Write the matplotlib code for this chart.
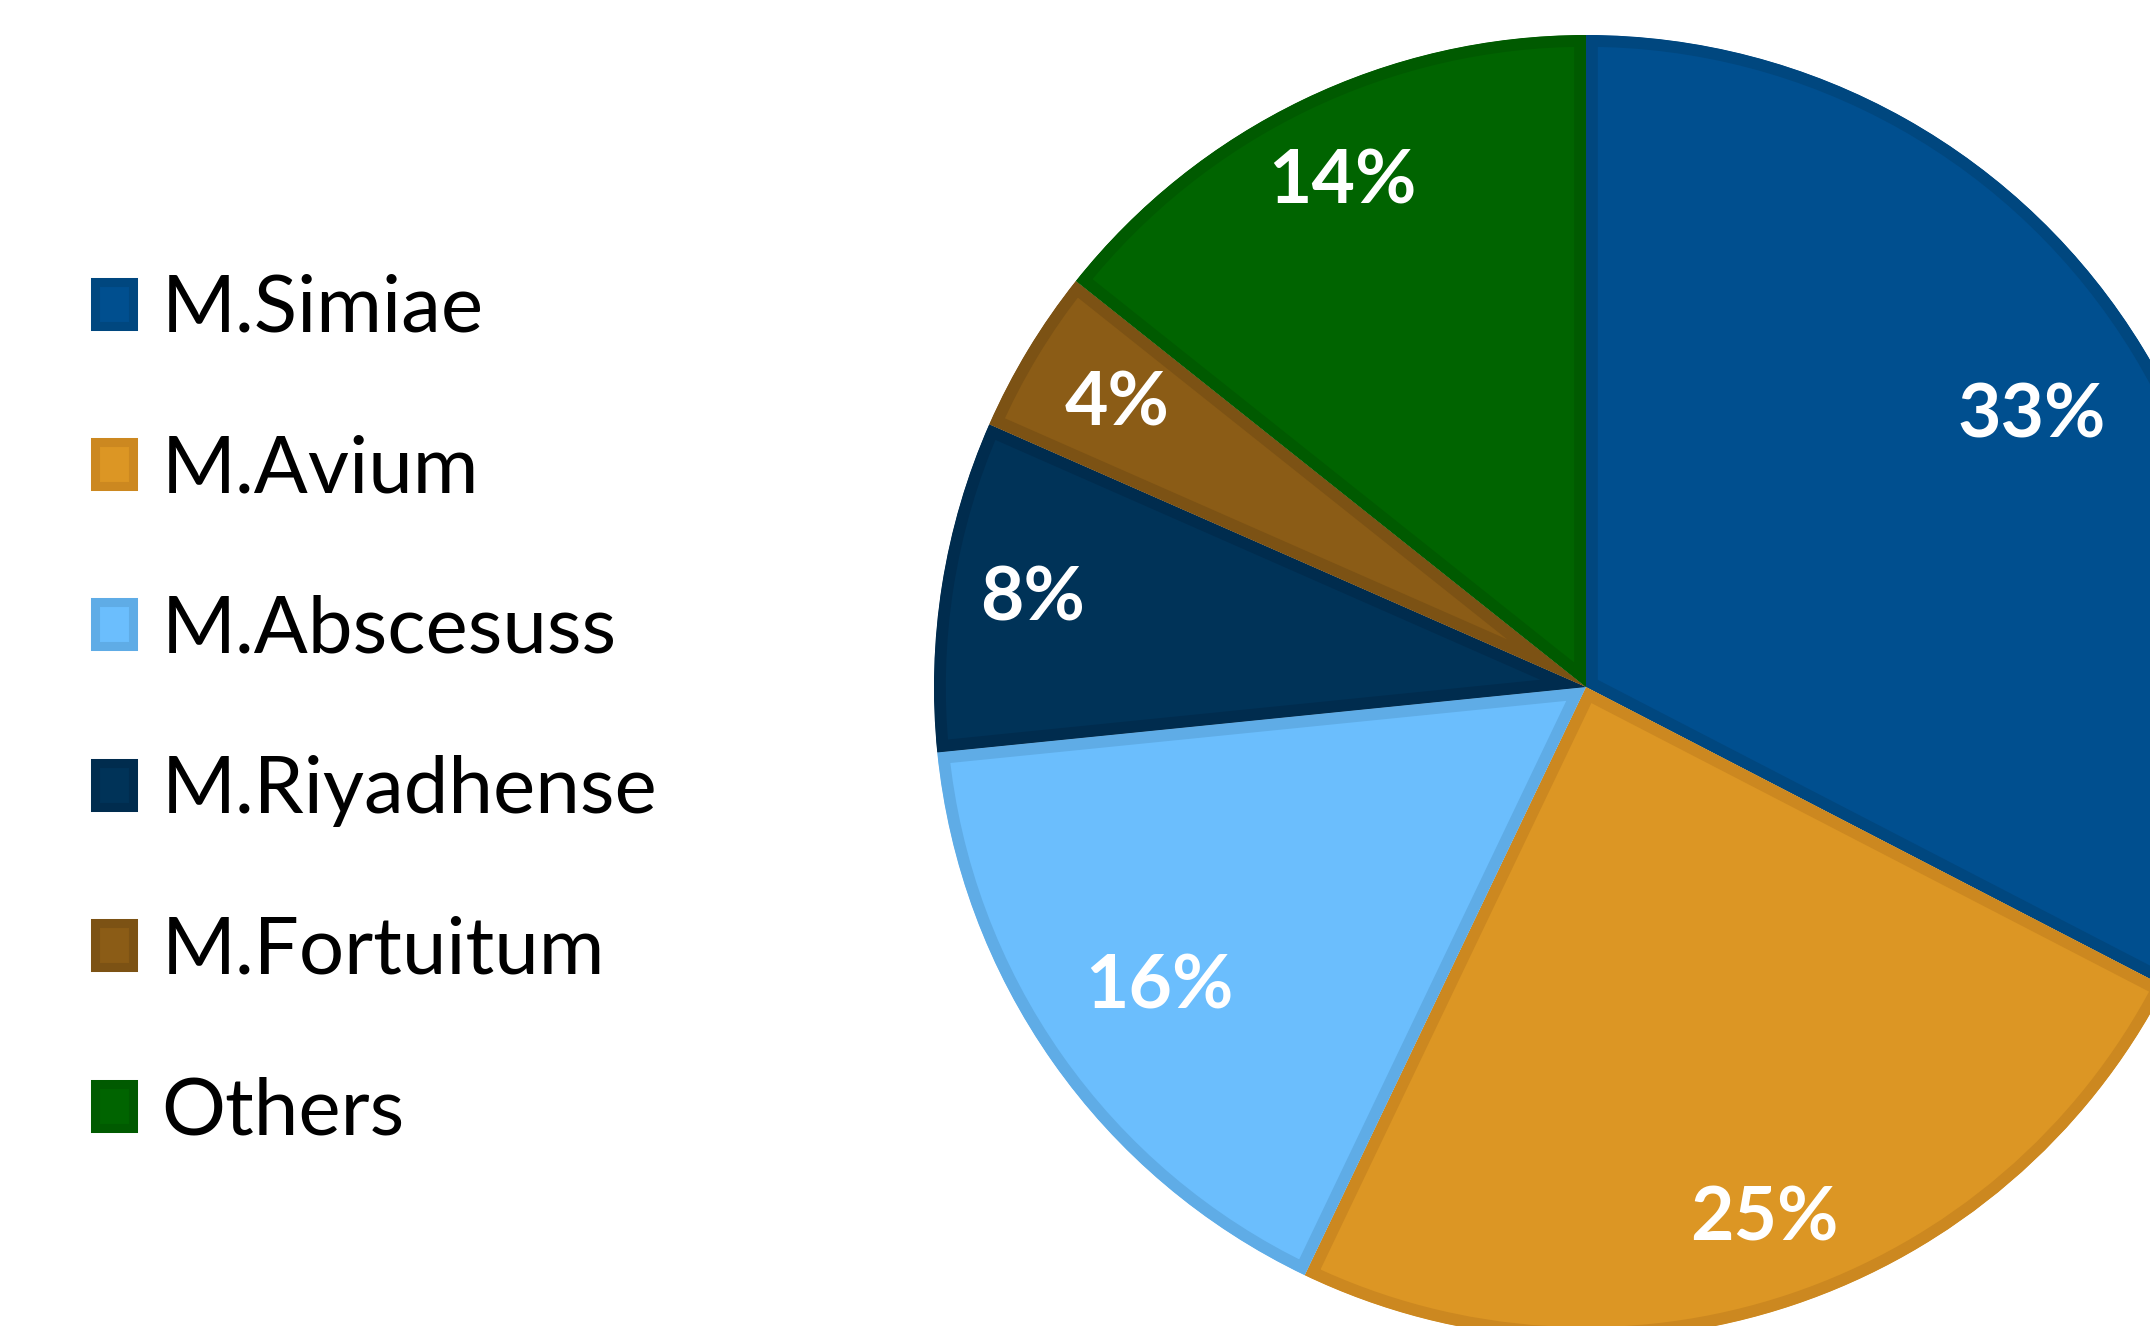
import matplotlib
matplotlib.use("Agg")
import matplotlib.pyplot as plt
from matplotlib.patches import Patch
import numpy as np

categories = ["M.Simiae", "M.Avium", "M.Abscesuss", "M.Riyadhense", "M.Fortuitum", "Others"]
values = [32.6, 24.5, 16.3, 8.2, 4.1, 14.3]
pct_labels = ["33%", "25%", "16%", "8%", "4%", "14%"]
face_colors = ["#004F8F", "#DC9624", "#6BBEFD", "#003358", "#8B5C16", "#006400"]
edge_colors = ["#00477F", "#CC8820", "#5FACE6", "#002C4E", "#7C5214", "#005A00"]
label_radius = [0.80, 0.86, 0.80, 0.86, 0.84, 0.86]

plt.rcParams['font.family'] = ['Lato', 'DejaVu Sans']

W, H, DPI = 2150, 1326, 100
fig = plt.figure(figsize=(W / DPI, H / DPI), dpi=DPI)
fig.patch.set_facecolor("white")

cx, cy, R = 1586, 687, 652
ax = fig.add_axes([(cx - R) / W, 1 - (cy + R) / H, 2 * R / W, 2 * R / H])

wedges, _ = ax.pie(
    values, colors=face_colors, startangle=90, counterclock=False,
    radius=1.0, wedgeprops=dict(linewidth=17, joinstyle="round"),
)
for w, ec in zip(wedges, edge_colors):
    w.set_edgecolor(ec)
    w.set_clip_on(True)
    w.set_clip_path(w)

for w, lab, rr in zip(wedges, pct_labels, label_radius):
    mid = np.deg2rad((w.theta1 + w.theta2) / 2)
    ax.text(rr * np.cos(mid), rr * np.sin(mid), lab, ha="center", va="center",
            color="white", fontsize=54, fontweight="bold")

ax.set_xlim(-1, 1)
ax.set_ylim(-1, 1)
ax.axis("off")

handles = [Patch(facecolor=fc, edgecolor=ec, linewidth=6.5) for fc, ec in zip(face_colors, edge_colors)]
fig.legend(handles, categories, loc="upper left", bbox_to_anchor=(95 / W, 1 - 274 / H),
           frameon=False, fontsize=57.5, handlelength=0.47, handleheight=0.47,
           handletextpad=0.36, labelspacing=1.107, borderpad=0, borderaxespad=0)

fig.savefig("out.png", dpi=DPI, facecolor="white")
